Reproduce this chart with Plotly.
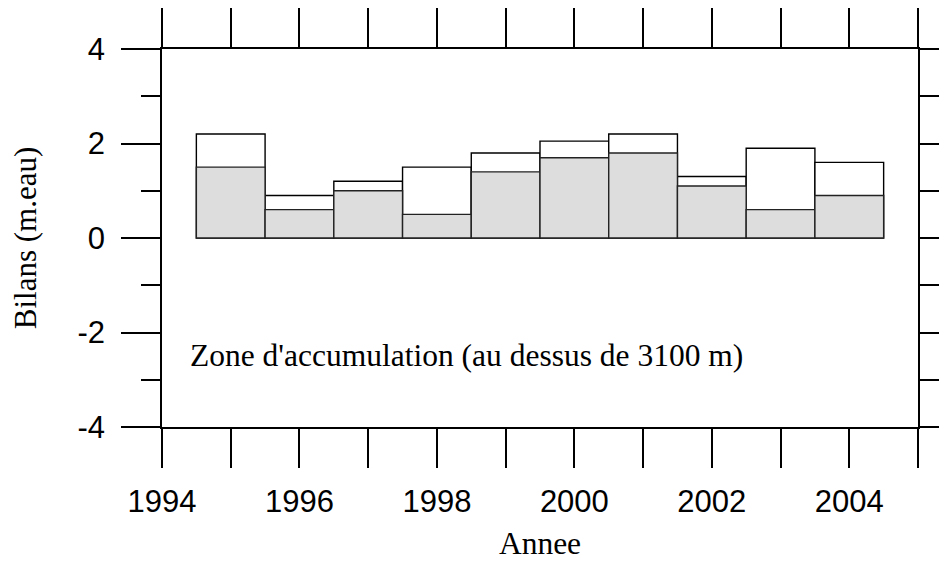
import plotly.graph_objects as go

years = [1995, 1996, 1997, 1998, 1999, 2000, 2001, 2002, 2003, 2004]
bilan_hiver = [2.2, 0.9, 1.2, 1.5, 1.8, 2.05, 2.2, 1.3, 1.9, 1.6]
bilan_annuel = [1.5, 0.6, 1.0, 0.5, 1.4, 1.7, 1.8, 1.1, 0.6, 0.9]
x_tickvals = list(range(1994, 2006))
x_ticktext = [str(v) if v % 2 == 0 and v < 2005 else "" for v in x_tickvals]
y_tickvals = [-4, -2, 0, 2, 4]
y_ticktext = ["-4", "-2", "0", "2", "4"]

fig = go.Figure()
fig.add_trace(go.Bar(x=years, y=bilan_hiver, width=1,
                     marker=dict(color="white", line=dict(color="black", width=1.4)),
                     showlegend=False))
fig.add_trace(go.Bar(x=years, y=bilan_annuel, width=1,
                     marker=dict(color="#dddddd", line=dict(color="#222222", width=1.4)),
                     showlegend=False))

fig.add_annotation(x=1994.38, y=-2.48, xref="x", yref="y",
                   text="Zone d'accumulation (au dessus de 3100 m)",
                   showarrow=False, xanchor="left", yanchor="middle",
                   font=dict(family="Liberation Serif", size=31.5, color="black"))

fig.update_layout(
    width=947, height=566,
    margin=dict(l=154, r=37, t=41, b=147, autoexpand=False),
    barmode="overlay",
    plot_bgcolor="white", paper_bgcolor="white",
    font=dict(family="Liberation Sans", color="black"),
    xaxis=dict(range=[1994, 2005], tickvals=x_tickvals, ticktext=x_ticktext,
               ticks="outside", ticklen=39, tickwidth=1.5, tickcolor="black",
               showline=True, linecolor="black", linewidth=1.5, mirror="allticks",
               showgrid=False, zeroline=False, automargin=False,
               ticklabelstandoff=7,
               tickfont=dict(family="Liberation Sans", size=31),
               title=dict(text="Annee", font=dict(family="Liberation Serif", size=31.5), standoff=14)),
    yaxis=dict(range=[-4, 4], tickvals=y_tickvals, ticktext=y_ticktext,
               ticks="outside", ticklen=39, tickwidth=1.5, tickcolor="black",
               minor=dict(dtick=1, ticklen=19, ticks="outside", tickwidth=1.5, tickcolor="black"),
               showline=True, linecolor="black", linewidth=1.5, mirror="allticks",
               showgrid=False, zeroline=False, automargin=False,
               ticklabelstandoff=10,
               tickfont=dict(family="Liberation Sans", size=31),
               title=dict(text="Bilans (m.eau)", font=dict(family="Liberation Serif", size=31), standoff=35)),
)

fig.write_html("out.html")
